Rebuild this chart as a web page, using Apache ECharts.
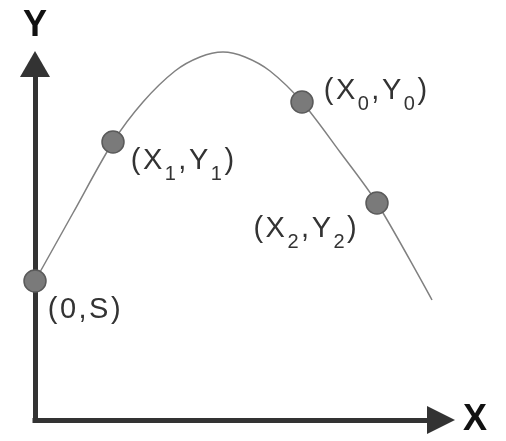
<!DOCTYPE html>
<html>
<head>
<meta charset="utf-8">
<script src="https://cdn.jsdelivr.net/npm/echarts@6/dist/echarts.min.js"></script>
<style>
  html, body { margin: 0; padding: 0; background: #fff; }
  #chart { width: 506px; height: 441px; }
</style>
</head>
<body>
<div id="chart"></div>
<script>
// curve (x right, y up)
var curveX = [-12, 0, 38, 78, 108, 140, 165, 188, 210, 235, 267, 305, 342, 397];
var curveY = [118, 139, 207, 278, 318, 349, 363, 368, 363, 349, 318, 268, 217, 120];

// marked points
var pointLabels = ['(0,S)', '(X_1,Y_1)', '(X_0,Y_0)', '(X_2,Y_2)'];
var pointX = [0, 78, 267, 342];
var pointY = [139, 278, 318, 217];

var chart = echarts.init(document.getElementById('chart'));

// label placement per point
var labelPos = [
    { position: 'right', offset: [-4, 30] },
    { position: 'right', offset: [1, 20] },
    { position: 'right', offset: [5, -10] },
    { position: 'left', offset: [-1, 27] }
];

function richLabel(s) {
    // one token per character, "_x" becomes a subscript
    var out = '';
    for (var i = 0; i < s.length; i++) {
        if (s[i] === '_') {
            out += '{s|' + s[i + 1] + '}';
            i++;
        } else {
            out += '{m|' + s[i] + '}';
        }
    }
    return out;
}

var curveData = curveX.map(function (x, i) { return [x, curveY[i]]; });
var pointData = pointX.map(function (x, i) {
    return {
        value: [x, pointY[i]],
        name: pointLabels[i],
        label: labelPos[i]
    };
});

var axisLineStyle = {
    color: '#333',
    width: 5,
    cap: 'square'
};

var option = {
    animation: false,
    grid: {
        left: 35,
        top: 64,
        width: 406,
        height: 356
    },
    xAxis: {
        type: 'value',
        min: 0,
        max: 406,
        name: 'X',
        nameLocation: 'end',
        nameGap: 22,
        nameTextStyle: {
            fontSize: 36,
            fontWeight: 'bold',
            color: '#111',
            fontFamily: 'Liberation Sans',
            verticalAlign: 'middle'
        },
        axisLine: {
            show: true,
            symbol: ['none', 'triangle'],
            symbolSize: [28, 28],
            lineStyle: axisLineStyle
        },
        axisTick: { show: false },
        axisLabel: { show: false },
        splitLine: { show: false }
    },
    yAxis: {
        type: 'value',
        min: 0,
        max: 356,
        name: 'Y',
        nameLocation: 'end',
        nameGap: 20,
        nameTextStyle: {
            fontSize: 36,
            fontWeight: 'bold',
            color: '#111',
            fontFamily: 'Liberation Sans',
            align: 'center'
        },
        axisLine: {
            show: true,
            symbol: ['none', 'triangle'],
            symbolSize: [30, 26],
            lineStyle: axisLineStyle
        },
        axisTick: { show: false },
        axisLabel: { show: false },
        splitLine: { show: false }
    },
    series: [
        {
            type: 'line',
            data: curveData,
            smooth: 0.3,
            symbol: 'none',
            clip: false,
            z: 1,
            lineStyle: {
                color: '#808080',
                width: 1.5
            }
        },
        {
            type: 'scatter',
            data: pointData,
            symbolSize: 22,
            clip: false,
            z: 3,
            itemStyle: {
                color: '#7a7a7a',
                borderColor: '#5a5a5a',
                borderWidth: 1.5,
                opacity: 1
            },
            label: {
                show: true,
                formatter: function (p) { return richLabel(p.name); },
                rich: {
                    m: {
                        fontSize: 29,
                        lineHeight: 32,
                        color: '#333',
                        fontFamily: 'Liberation Sans',
                        verticalAlign: 'top',
                        padding: [0, 2.5, 0, 0]
                    },
                    s: {
                        fontSize: 20,
                        lineHeight: 20,
                        color: '#333',
                        fontFamily: 'Liberation Sans',
                        verticalAlign: 'top',
                        padding: [18, 2.5, 0, 0]
                    }
                }
            }
        }
    ]
};

chart.setOption(option);
</script>
</body>
</html>
